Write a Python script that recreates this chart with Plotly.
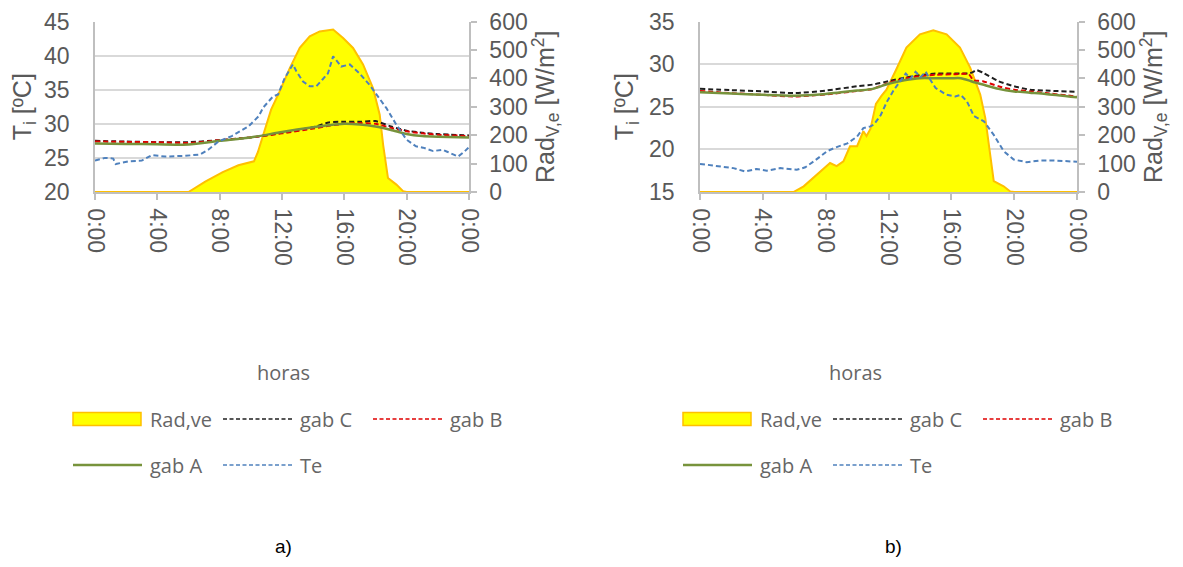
import plotly.graph_objects as go

# page is 1183x567; the browser's default body margin (8px) offsets the figure
PAGE_W, PAGE_H, BODY = 1183, 567, 8
W, H = PAGE_W - 2 * BODY, PAGE_H - 2 * BODY

# ---------------- data: chart a) ----------------
a_rad_h = [0, 6.0, 7.1, 8.2, 9.2, 10.2, 10.45, 10.7, 11.0, 11.3, 11.85, 12.5, 13.14, 13.78, 14.42, 15.28,
           15.92, 16.56, 17.2, 17.84, 18.27, 18.49, 18.8, 19.34, 19.77, 20.0, 24]
a_rad = [0, 0, 37, 70, 94, 108, 140, 185, 245, 290, 354, 436, 507, 548, 565, 572,
         542, 507, 449, 366, 272, 166, 49, 26, 3, 0, 0]

a_gab_h = [0, 2, 4, 6, 8, 10, 12, 14, 15, 16, 17, 18, 19, 20, 21, 22, 24]
a_gabC = [27.5, 27.4, 27.3, 27.3, 27.6, 28.0, 28.7, 29.5, 30.2, 30.3, 30.3, 30.4, 29.6, 29.0, 28.7, 28.5, 28.3]
a_gabB = [27.4, 27.35, 27.3, 27.2, 27.6, 28.0, 28.6, 29.3, 29.7, 30.0, 30.1, 30.0, 29.4, 28.9, 28.6, 28.4, 28.2]
a_gabA = [27.1, 27.05, 27.0, 26.95, 27.5, 28.0, 28.8, 29.5, 29.8, 30.0, 29.9, 29.6, 29.1, 28.5, 28.2, 28.1, 28.0]

a_te_h = [0, 0.64, 1.17, 1.33, 2.14, 3.0, 3.64, 4.5, 5.78, 6.74, 7.27, 7.92, 8.78, 9.84, 10.5, 10.8,
          11.42, 11.75, 12.17, 12.7, 12.92, 13.35, 13.78, 14.2, 14.6, 14.95, 15.28, 15.8, 16.35,
          16.97, 17.62, 18.05, 18.7, 19.33, 19.98, 20.6, 21.05, 21.7, 22.3, 22.6, 23.3, 23.7, 24]
a_te = [24.6, 25.0, 24.9, 24.1, 24.5, 24.6, 25.4, 25.2, 25.3, 25.5, 26.2, 27.4, 28.2, 29.6, 31.1, 32.4,
        34.0, 34.3, 36.7, 38.7, 37.7, 36.2, 35.5, 35.5, 36.5, 37.4, 39.9, 38.4, 38.7,
        37.4, 35.7, 34.3, 32.3, 29.9, 27.7, 26.7, 26.5, 26.0, 26.2, 25.9, 25.2, 25.9, 26.6]

# ---------------- data: chart b) ----------------
b_rad_h = [0, 5.95, 6.6, 7.0, 7.64, 8.28, 8.7, 9.13, 9.55, 10.0, 10.4, 10.6, 10.85, 11.2, 11.55, 11.87,
           12.5, 13.14, 14.0, 14.85, 15.7, 16.55, 17.2, 17.84, 18.16, 18.5, 18.7, 19.33, 19.75, 20.0, 24]
b_rad = [0, 0, 20, 40, 71, 102, 91, 108, 161, 161, 214, 197, 222, 310, 338, 360,
         432, 508, 555, 569, 555, 508, 438, 343, 261, 120, 38, 20, 2, 0, 0]

b_gab_h = [0, 2, 4, 6, 8, 10, 11, 12, 13, 14, 15, 16, 16.6, 17.1, 17.4, 17.6, 18, 19, 20, 21, 22, 24]
b_gabC = [27.1, 26.95, 26.8, 26.6, 26.9, 27.4, 27.6, 28.0, 28.4, 28.7, 28.9, 28.9, 28.9, 28.9, 29.1, 29.3,
          29.0, 28.0, 27.4, 27.0, 26.9, 26.75]
b_gabB = [26.85, 26.6, 26.4, 26.2, 26.45, 26.85, 27.1, 27.8, 28.3, 28.6, 28.75, 28.8, 28.85, 28.85, 28.1, 28.05,
          28.0, 27.4, 27.0, 26.8, 26.6, 26.2]
b_gabA = [26.7, 26.55, 26.4, 26.3, 26.5, 26.9, 27.1, 27.7, 28.1, 28.35, 28.35, 28.35, 28.35, 28.1, 27.9, 27.8,
          27.6, 27.1, 26.8, 26.65, 26.5, 26.1]

b_te_h = [0, 1.49, 2.13, 2.88, 3.6, 4.25, 5.1, 6.16, 6.7, 7.25, 8.1, 8.74, 9.38, 10.0, 10.4, 10.85, 11.07,
          11.5, 11.9, 12.35, 12.77, 13.1, 13.4, 13.72, 14.05, 14.37, 14.68, 15.0, 15.7, 16.25, 16.6, 17.0,
          17.44, 18.07, 18.7, 19.33, 19.97, 20.8, 21.7, 22.5, 24]
b_te = [18.3, 18.0, 17.8, 17.4, 17.7, 17.5, 17.8, 17.6, 17.9, 18.6, 19.8, 20.3, 20.7, 21.5, 22.5, 22.7, 22.9,
        24.0, 25.6, 27.0, 28.0, 28.9, 28.3, 29.1, 28.5, 29.1, 28.1, 27.2, 26.4, 26.2, 26.4, 25.6,
        23.9, 23.3, 21.7, 19.8, 18.8, 18.5, 18.7, 18.7, 18.55]

tick_vals = [0, 4, 8, 12, 16, 20, 24]
tick_text = ["0:00", "4:00", "8:00", "12:00", "16:00", "20:00", "0:00"]
legend_names = ["Rad,ve", "gab C", "gab B", "gab A", "Te"]

# ---------------- styles ----------------
YELLOW, ORANGE = "#FFFF00", "#FFC000"
C_BLACK, C_RED, C_GREEN, C_BLUE = "#1f1f1f", "#E00000", "#77933C", "#4F81BD"
DASH = "5px,3px"
GRID, AXIS = "#D9D9D9", "#BFBFBF"
TXT = "#595959"
FONT = "Liberation Sans, Arial, sans-serif"


def px(x):
    return (x - BODY) / W


def py(y):
    return 1 - (y - BODY) / H


fig = go.Figure()


def add_chart(xa, yrad, ytemp, rad_h, rad, gab_h, gC, gB, gA, te_h, te):
    fig.add_trace(go.Scatter(x=rad_h, y=rad, xaxis=xa, yaxis=yrad, mode="lines", fill="tozeroy",
                             fillcolor=YELLOW, line=dict(color=ORANGE, width=2),
                             name=legend_names[0], showlegend=False))
    fig.add_trace(go.Scatter(x=gab_h, y=gC, xaxis=xa, yaxis=ytemp, mode="lines",
                             line=dict(color=C_BLACK, width=2, dash=DASH, shape="spline", smoothing=0.6),
                             name=legend_names[1], showlegend=False))
    fig.add_trace(go.Scatter(x=gab_h, y=gB, xaxis=xa, yaxis=ytemp, mode="lines",
                             line=dict(color=C_RED, width=2, dash=DASH, shape="spline", smoothing=0.6),
                             name=legend_names[2], showlegend=False))
    fig.add_trace(go.Scatter(x=gab_h, y=gA, xaxis=xa, yaxis=ytemp, mode="lines",
                             line=dict(color=C_GREEN, width=2.5, shape="spline", smoothing=0.6),
                             name=legend_names[3], showlegend=False))
    fig.add_trace(go.Scatter(x=te_h, y=te, xaxis=xa, yaxis=ytemp, mode="lines",
                             line=dict(color=C_BLUE, width=2, dash=DASH),
                             name=legend_names[4], showlegend=False))


add_chart("x", "y", "y2", a_rad_h, a_rad, a_gab_h, a_gabC, a_gabB, a_gabA, a_te_h, a_te)
add_chart("x2", "y3", "y4", b_rad_h, b_rad, b_gab_h, b_gabC, b_gabB, b_gabA, b_te_h, b_te)

tickfont = dict(family=FONT, size=23, color=TXT)
titlefont = dict(family=FONT, size=25, color=TXT)

ydom = [py(192), py(21.5)]


def xaxis_cfg(x0, x1):
    return dict(domain=[px(x0), px(x1)], range=[0, 24], tickvals=tick_vals, ticktext=tick_text,
                tickangle=90, ticks="outside", ticklen=6, tickcolor=AXIS, tickwidth=1.5,
                showline=True, linecolor=AXIS, linewidth=1.5, showgrid=False, zeroline=False,
                tickfont=tickfont, ticklabelstandoff=4, fixedrange=True, automargin=False)


def rad_cfg(anchor, standoff):
    return dict(domain=ydom, anchor=anchor, side="right", range=[0, 600], dtick=100,
                ticks="outside", ticklen=6, tickcolor=AXIS, tickwidth=1.5,
                showline=True, linecolor=AXIS, linewidth=1.5, showgrid=False, zeroline=False,
                tickfont=tickfont, ticklabelstandoff=8, automargin=False,
                title=dict(text="Rad<sub>V,e</sub> [W/m<sup>2</sup>]", font=titlefont, standoff=standoff))


def temp_cfg(anchor, over, rng, standoff):
    return dict(overlaying=over, anchor=anchor, side="left", range=rng, dtick=5,
                showgrid=True, gridcolor=GRID, gridwidth=2, showline=True, linecolor=AXIS,
                linewidth=1.5, ticks="", zeroline=False, tickfont=tickfont, ticklabelstandoff=19,
                automargin=False,
                title=dict(text="T<sub>i</sub> [ºC]", font=titlefont, standoff=standoff))


fig.update_layout(
    width=W, height=H, margin=dict(l=0, r=0, t=0, b=0, pad=0, autoexpand=False),
    paper_bgcolor="white", plot_bgcolor="white", showlegend=False,
    xaxis=xaxis_cfg(95, 469),
    yaxis=rad_cfg("x", 6),
    yaxis2=temp_cfg("x", "y", [20, 45], 8),
    xaxis2=xaxis_cfg(700, 1077),
    yaxis3=rad_cfg("x2", 6),
    yaxis4=temp_cfg("x2", "y3", [15, 35], 8),
)

shapes = []
annotations = []
legfont = dict(family="Open Sans, sans-serif", size=20, color="#666666")


def add_legend(off, cx):
    annotations.append(dict(x=px(cx), y=py(372), xref="paper", yref="paper", text="horas",
                            xanchor="center", yanchor="middle", showarrow=False, font=legfont))
    r1, r2 = 419, 465
    shapes.append(dict(type="rect", xref="paper", yref="paper", x0=px(off + 73), x1=px(off + 141),
                       y0=py(r1 + 6.5), y1=py(r1 - 6.5), fillcolor=YELLOW, line=dict(color=ORANGE, width=1.5)))
    items = [
        (off + 73, r2, C_GREEN, None, legend_names[3], 2.5),
        (off + 223, r1, C_BLACK, "dot", legend_names[1], 1.5),
        (off + 373, r1, C_RED, "dot", legend_names[2], 1.5),
        (off + 223, r2, C_BLUE, "dot", legend_names[4], 1.5),
    ]
    for x0, yy, col, dash, name, w in items:
        ln = dict(color=col, width=w)
        if dash:
            ln["dash"] = "4px,2.5px"
        shapes.append(dict(type="line", xref="paper", yref="paper", x0=px(x0), x1=px(x0 + 69),
                           y0=py(yy), y1=py(yy), line=ln))
        annotations.append(dict(x=px(x0 + 75), y=py(yy), xref="paper", yref="paper", text=name,
                                showarrow=False, xanchor="left", yanchor="middle", font=legfont))
    annotations.append(dict(x=px(off + 148), y=py(r1), xref="paper", yref="paper", text=legend_names[0],
                            showarrow=False, xanchor="left", yanchor="middle", font=legfont))


add_legend(0, 283)
add_legend(610, 855)

for lbl, cx in (("a)", 283), ("b)", 893)):
    annotations.append(dict(x=px(cx), y=py(546), xref="paper", yref="paper", text=lbl, showarrow=False,
                            xanchor="center", yanchor="middle",
                            font=dict(family=FONT, size=19, color="black")))

fig.update_layout(shapes=shapes, annotations=annotations)
fig.write_html("out.html")
